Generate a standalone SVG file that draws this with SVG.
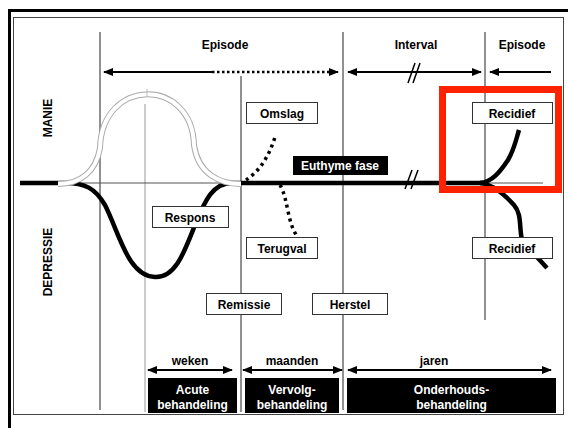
<svg xmlns="http://www.w3.org/2000/svg" width="568" height="428" viewBox="0 0 568 428">
<style>
text{font-family:"Liberation Sans",Arial,sans-serif;font-weight:bold;font-size:12px;text-anchor:middle}
.w{fill:#fff}
.box{fill:#fff;stroke:#333;stroke-width:1}
.blk{fill:#000}
.vl{stroke:#222;stroke-width:1;fill:none}
.ar{stroke:#000;stroke-width:2;fill:none}
.thick{stroke:#000;stroke-width:4.5;fill:none;stroke-linecap:butt}
.dot{stroke:#000;stroke-width:3.5;fill:none;stroke-dasharray:3 4}
</style>
<defs>
<marker id="ah" viewBox="0 0 10 10" refX="9" refY="5" markerWidth="5" markerHeight="5" orient="auto-start-reverse" markerUnits="strokeWidth"><path d="M0,1 L10,5 L0,9 Z" fill="#000"/></marker>
</defs>
<rect width="568" height="428" fill="#fff"/>
<!-- frame -->
<path d="M9.5,428 V10.5 H568" fill="none" stroke="#000" stroke-width="3"/>
<rect x="13.5" y="17.5" width="550" height="397" fill="none" stroke="#444" stroke-width="1"/>

<!-- grid lines -->
<g id="grid">
<line class="vl" x1="100" y1="32" x2="100" y2="410"/>
<line x1="145" y1="104" x2="145" y2="412" stroke="#999" stroke-width="1"/>
<line class="vl" x1="241" y1="76" x2="241" y2="412"/>
<line class="vl" x1="343" y1="32" x2="343" y2="410" stroke="#444"/>
<line class="vl" x1="485" y1="32" x2="485" y2="320" stroke="#555"/>
<line x1="60" y1="183" x2="543" y2="183" stroke="#555" stroke-width="1"/>
</g>

<!-- axis labels -->
<text transform="translate(52,118) rotate(-90)">MANIE</text>
<text transform="translate(52,262) rotate(-90)">DEPRESSIE</text>

<!-- header -->
<text x="225" y="49">Episode</text>
<text x="416" y="49">Interval</text>
<text x="522" y="49">Episode</text>

<g id="connectors">
<!-- top arrows -->
<line class="ar" x1="104" y1="72" x2="212" y2="72" marker-start="url(#ah)"/>
<line x1="212" y1="72" x2="332" y2="72" stroke="#000" stroke-width="2.5" stroke-dasharray="2.5 2.5"/>
<line class="ar" x1="332" y1="72" x2="338" y2="72" marker-end="url(#ah)"/>
<line class="ar" x1="348" y1="72" x2="481" y2="72" marker-start="url(#ah)" marker-end="url(#ah)"/>
<path d="M408,83 L415,63 M413,83 L420,63" stroke="#000" stroke-width="1.5" fill="none"/>
<line class="ar" x1="490" y1="72" x2="551" y2="72" marker-start="url(#ah)"/>

<!-- depression curve -->
<path class="thick" d="M20,183 L65,183 C85,183 95,188 105,205 C120,235 128,276 155,277 C176,278 185,250 195,225 C205,200 213,183 232,183 L241,183"/>
<!-- bell (mania, light) -->
<path d="M58,184 C80,184 96,172 100,148 C102,77 192,77 194,145 C198,174 220,184 241,184" fill="none" stroke="#aaa" stroke-width="6"/>
<path d="M58,184 C80,184 96,172 100,148 C102,77 192,77 194,145 C198,174 220,184 241,184" fill="none" stroke="#fff" stroke-width="4"/>
<line x1="147" y1="89" x2="147" y2="97" stroke="#bbb" stroke-width="1"/>
<!-- euthyme line -->
<path class="thick" d="M241,183 L485,183"/>
<path d="M405,189 L412,170 M411,189 L418,170" stroke="#000" stroke-width="1.5" fill="none"/>
<!-- dotted omslag / terugval -->
<path class="dot" d="M246,180 C258,172 268,160 276,134"/>
<path class="dot" d="M280,185 C288,198 287,222 297,236"/>
<!-- recidief up -->
<path class="thick" d="M480,183 C492,182 500,172 508,160 C514,150 516,140 519,130"/>
<!-- recidief down -->
<path class="thick" d="M480,183 C492,184 505,195 514,205 C522,214 519,228 522,240"/>
<path class="thick" d="M536,256 L547,268"/>
<!-- bottom arrows -->
<line class="ar" x1="148" y1="370" x2="232" y2="370" marker-start="url(#ah)" marker-end="url(#ah)"/>
<line class="ar" x1="243" y1="370" x2="342" y2="370" marker-start="url(#ah)" marker-end="url(#ah)"/>
<line class="ar" x1="348" y1="370" x2="551" y2="370" marker-start="url(#ah)" marker-end="url(#ah)"/>
</g>

<text x="190" y="365">weken</text>
<text x="292" y="365">maanden</text>
<text x="434" y="365">jaren</text>

<g id="omslag"><rect class="box" x="246.5" y="102.5" width="71" height="21"/><text x="282" y="117.5">Omslag</text></g>
<g id="recidief-top"><rect class="box" x="472.5" y="102.5" width="80" height="21"/><text x="512" y="117.5">Recidief</text></g>
<g id="euthyme"><rect class="blk" x="293" y="156" width="95" height="19"/><text class="w" x="340" y="170">Euthyme fase</text></g>
<g id="respons"><rect class="box" x="152.5" y="206.5" width="76" height="21"/><text x="190" y="221.5">Respons</text></g>
<g id="terugval"><rect class="box" x="246.5" y="237.5" width="71" height="21"/><text x="282" y="252.5">Terugval</text></g>
<g id="recidief-bottom"><rect class="box" x="472.5" y="237.5" width="80" height="21"/><text x="512" y="252.5">Recidief</text></g>
<g id="remissie"><rect class="box" x="206.5" y="293.5" width="75" height="21"/><text x="244" y="308.5">Remissie</text></g>
<g id="herstel"><rect class="box" x="312.5" y="293.5" width="75" height="21"/><text x="350" y="308.5">Herstel</text></g>

<g id="acute"><rect class="blk" x="148" y="378" width="89" height="35"/><text class="w" x="192.5" y="394">Acute</text><text class="w" x="192.5" y="409">behandeling</text></g>
<g id="vervolg"><rect class="blk" x="245" y="378" width="94" height="35"/><text class="w" x="292" y="394">Vervolg-</text><text class="w" x="292" y="409">behandeling</text></g>
<g id="onderhoud"><rect class="blk" x="347" y="378" width="209" height="35"/><text class="w" x="451.5" y="394">Onderhouds-</text><text class="w" x="451.5" y="409">behandeling</text></g>

<g id="highlight"><rect x="442.5" y="89.5" width="116" height="100" fill="none" stroke="#ff2200" stroke-width="7"/></g>
</svg>
